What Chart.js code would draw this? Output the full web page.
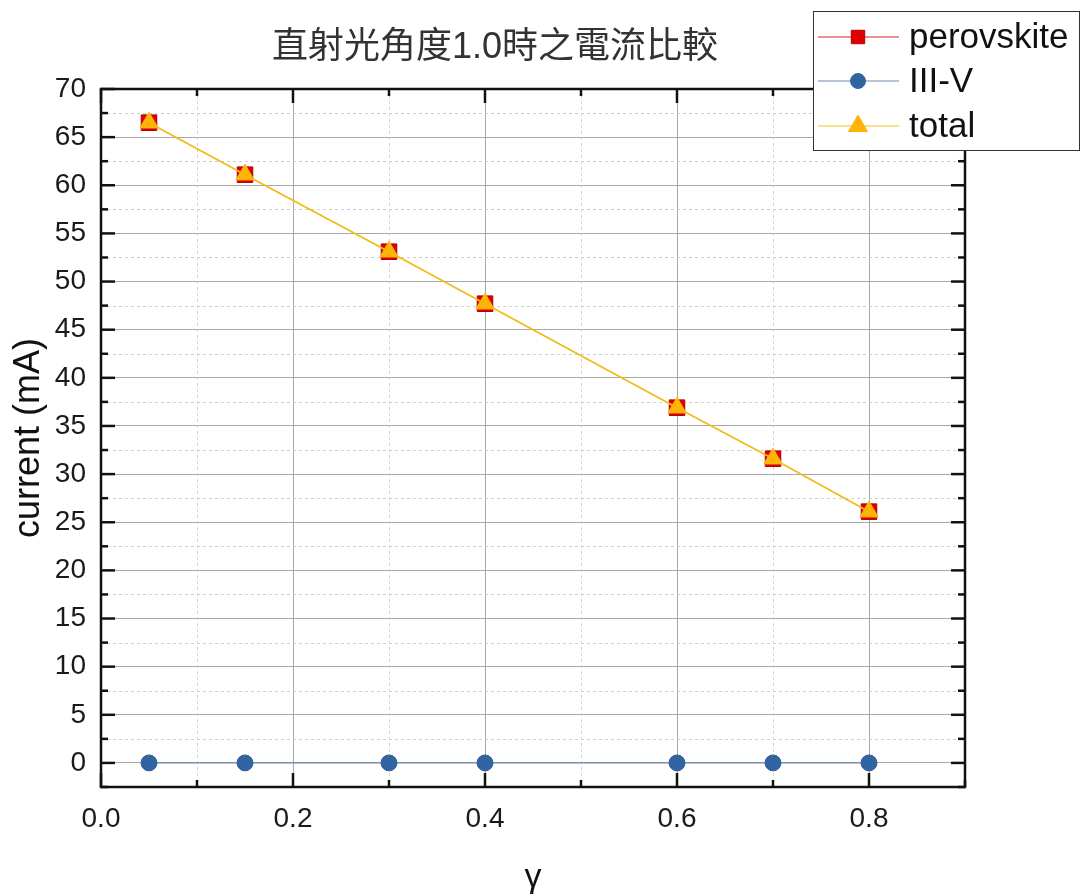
<!DOCTYPE html>
<html>
<head>
<meta charset="utf-8">
<script src="https://cdn.jsdelivr.net/npm/chart.js@4.4.1/dist/chart.umd.min.js"></script>
<style>
  html, body { margin: 0; padding: 0; background: #fff; }
  #wrap { width: 1084px; height: 895px; }
</style>
</head>
<body>
<div id="wrap"><canvas id="chartCanvas" width="1084" height="895"></canvas></div>
<script>
(function(){
'use strict';

// ---- datos ----
const xVals      = [0.05, 0.15, 0.3, 0.4, 0.6, 0.7, 0.8];
const perovskite = [66.5, 61.1, 53.1, 47.7, 36.9, 31.6, 26.1];
const iiiV       = [0, 0, 0, 0, 0, 0, 0];
const total      = [66.5, 61.1, 53.1, 47.7, 36.9, 31.6, 26.1];
const seriesNames = ['perovskite', 'III-V', 'total'];

const chartTitle = '直射光角度1.0時之電流比較';
const xTitle = 'γ';
const yTitle = 'current (mA)';

const xTickVals  = [0, 0.2, 0.4, 0.6, 0.8];
const xMinorVals = [0.1, 0.3, 0.5, 0.7, 0.9];
const yTickVals  = [0, 5, 10, 15, 20, 25, 30, 35, 40, 45, 50, 55, 60, 65, 70];
const yMinorVals = [-2.5, 2.5, 7.5, 12.5, 17.5, 22.5, 27.5, 32.5, 37.5, 42.5, 47.5, 52.5, 57.5, 62.5, 67.5];

const FONT = '"Liberation Sans", Arial, "Noto Sans CJK TC", sans-serif';
Chart.defaults.font.family = FONT;

const pts = arr => xVals.map((x, i) => ({ x, y: arr[i] }));

// rejilla menor punteada + marco + marcas hacia adentro + título + leyenda
const decor = {
  id: 'decor',
  beforeDatasetsDraw(chart){
    const { ctx, chartArea: a, scales: { x, y } } = chart;
    ctx.save();
    ctx.strokeStyle = '#cfcfcf';
    ctx.lineWidth = 1;
    ctx.setLineDash([3, 3]);
    xMinorVals.forEach(v => {
      const px = Math.round(x.getPixelForValue(v)) + 0.5;
      ctx.beginPath(); ctx.moveTo(px, a.top); ctx.lineTo(px, a.bottom); ctx.stroke();
    });
    yMinorVals.forEach(v => {
      const py = Math.round(y.getPixelForValue(v)) + 0.5;
      ctx.beginPath(); ctx.moveTo(a.left, py); ctx.lineTo(a.right, py); ctx.stroke();
    });
    ctx.restore();
  },
  afterDraw(chart){
    const { ctx, chartArea: a, scales: { x, y } } = chart;
    ctx.save();
    ctx.strokeStyle = '#111';
    ctx.lineWidth = 2.5;
    ctx.setLineDash([]);
    ctx.strokeRect(a.left, a.top, a.right - a.left, a.bottom - a.top);

    const tick = (x1, y1, x2, y2) => { ctx.beginPath(); ctx.moveTo(x1, y1); ctx.lineTo(x2, y2); ctx.stroke(); };
    const MAJ = 14, MIN = 7;
    xTickVals.forEach(v => { const p = x.getPixelForValue(v); tick(p, a.bottom, p, a.bottom - MAJ); tick(p, a.top, p, a.top + MAJ); });
    xMinorVals.forEach(v => { const p = x.getPixelForValue(v); tick(p, a.bottom, p, a.bottom - MIN); tick(p, a.top, p, a.top + MIN); });
    yTickVals.forEach(v => { const p = y.getPixelForValue(v); tick(a.left, p, a.left + MAJ, p); tick(a.right, p, a.right - MAJ, p); });
    yMinorVals.forEach(v => { const p = y.getPixelForValue(v); tick(a.left, p, a.left + MIN, p); tick(a.right, p, a.right - MIN, p); });

    // título
    ctx.fillStyle = '#333';
    ctx.font = '36px ' + FONT;
    ctx.textAlign = 'center';
    ctx.textBaseline = 'middle';
    ctx.fillText(chartTitle, 495, 48);

    // leyenda
    const lx = 813, ly = 11, lw = 266, lh = 139;
    ctx.fillStyle = '#fff';
    ctx.fillRect(lx, ly, lw, lh);
    ctx.strokeStyle = '#333';
    ctx.lineWidth = 1;
    ctx.strokeRect(lx + 0.5, ly + 0.5, lw, lh);
    const rows = [37, 81, 126];
    chart.data.datasets.forEach((ds, i) => {
      const cy = rows[i];
      ctx.strokeStyle = ds.borderColor;
      ctx.lineWidth = 1.2;
      ctx.beginPath(); ctx.moveTo(818, cy); ctx.lineTo(899, cy); ctx.stroke();
      ctx.fillStyle = ds.pointBackgroundColor;
      ctx.strokeStyle = ds.pointBorderColor;
      ctx.lineWidth = 1;
      Chart.helpers.drawPoint(ctx, { pointStyle: ds.pointStyle, radius: ds.legendRadius, rotation: 0, borderWidth: 1 }, 858, cy);
      ctx.fillStyle = '#111';
      ctx.font = '35px ' + FONT;
      ctx.textAlign = 'left';
      ctx.textBaseline = 'middle';
      ctx.fillText(ds.label, 909, cy + 1);
    });
    ctx.restore();
  }
};

const canvas = document.getElementById('chartCanvas');
new Chart(canvas.getContext('2d'), {
  type: 'line',
  data: {
    datasets: [
      { label: seriesNames[0], data: pts(perovskite), order: 3,
        borderColor: '#d42020', borderWidth: 1, pointStyle: 'rect', pointRadius: 11, legendRadius: 9.5,
        pointBackgroundColor: '#e00000', pointBorderColor: '#b40000', pointBorderWidth: 1 },
      { label: seriesNames[1], data: pts(iiiV), order: 2,
        borderColor: '#6f8aa8', borderWidth: 1.2, pointStyle: 'circle', pointRadius: 8, legendRadius: 7.5,
        pointBackgroundColor: '#2f64a0', pointBorderColor: '#2f64a0', pointBorderWidth: 1 },
      { label: seriesNames[2], data: pts(total), order: 1,
        borderColor: '#f0c31c', borderWidth: 1.7, pointStyle: 'triangle', pointRadius: 10.5, legendRadius: 11,
        pointBackgroundColor: '#ffb40a', pointBorderColor: '#ffb40a', pointBorderWidth: 1 }
    ]
  },
  options: {
    responsive: false,
    animation: false,
    devicePixelRatio: 1,
    layout: { padding: { top: 89, right: 119, bottom: 0, left: 0 } },
    plugins: { legend: { display: false }, title: { display: false }, tooltip: { enabled: false } },
    scales: {
      x: {
        type: 'linear', min: 0, max: 0.9,
        afterBuildTicks: s => { s.ticks = xTickVals.map(v => ({ value: v })); },
        afterFit: s => { s.height = 108; },
        ticks: { callback: v => Number(v).toFixed(1), font: { size: 28 }, color: '#1a1a1a', padding: 15, maxRotation: 0 },
        grid: { color: '#a8a8a8', lineWidth: 1, drawTicks: false },
        border: { display: false },
        title: { display: true, text: xTitle, font: { size: 34 }, color: '#111', padding: { top: 0, bottom: -3 } }
      },
      y: {
        type: 'linear', min: -2.5, max: 70,
        afterBuildTicks: s => { s.ticks = yTickVals.map(v => ({ value: v })); },
        afterFit: s => { s.width = 101; },
        ticks: { font: { size: 28 }, color: '#1a1a1a', padding: 15 },
        grid: { color: '#a8a8a8', lineWidth: 1, drawTicks: false },
        border: { display: false },
        title: { display: true, text: yTitle, font: { size: 36 }, color: '#111', padding: { top: 7, bottom: 0 } }
      }
    }
  },
  plugins: [decor]
});

})();
</script>
</body>
</html>
